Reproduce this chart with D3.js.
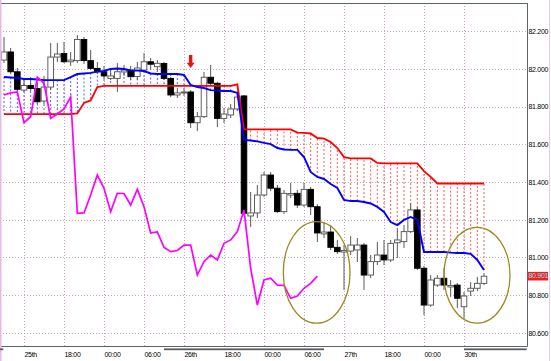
<!DOCTYPE html>
<html>
<head>
<meta charset="utf-8">
<script src="https://cdn.jsdelivr.net/npm/d3@7"></script>
<style>
body { margin: 0; background: #fff; }
svg text { font-family: "Liberation Sans", Arial, sans-serif; font-size: 7px; fill: #000; letter-spacing: -0.3px; }
</style>
</head>
<body>
<script>
// bar index of the first visible candle (0 = "25th" label)
var firstBar = -3;

var opens = [82.046, 82.089, 81.984, 81.887, 81.911, 81.895, 81.829, 81.903, 82.062, 82.081,
             82.037, 82.043, 82.155, 82.043, 82.002, 81.984, 81.949, 81.949, 81.983, 81.990,
             81.959, 81.993, 82.037, 82.011, 82.028, 81.949, 81.861, 81.872, 81.877, 81.714,
             81.746, 81.955, 81.923, 81.737, 81.755, 81.787, 81.856, 81.220, 81.236, 81.331,
             81.437, 81.367, 81.243, 81.331, 81.340, 81.278, 81.361, 81.269, 81.125, 81.135,
             81.054, 81.029, 81.034, 81.040, 81.066, 80.907, 80.978, 81.013, 80.987, 81.078,
             81.084, 81.137, 81.252, 80.943, 80.748, 80.854, 80.890, 80.844, 80.854, 80.739,
             80.822, 80.837, 80.863];
var highs = [82.168, 82.110, 82.004, 81.946, 81.956, 81.930, 81.962, 82.136, 82.136, 82.142,
             82.089, 82.179, 82.168, 82.099, 82.036, 82.015, 81.993, 82.030, 82.020, 82.015,
             82.036, 82.083, 82.057, 82.046, 82.036, 81.956, 81.898, 81.898, 81.887, 81.771,
             81.983, 82.020, 81.930, 81.792, 81.813, 81.877, 81.861, 81.347, 81.384, 81.453,
             81.453, 81.384, 81.358, 81.395, 81.358, 81.395, 81.374, 81.283, 81.188, 81.172,
             81.093, 81.066, 81.114, 81.103, 81.077, 81.013, 81.082, 81.093, 81.093, 81.156,
             81.172, 81.289, 81.268, 80.955, 80.907, 80.907, 80.944, 80.881, 80.865, 80.817,
             80.870, 80.897, 80.918];
var lows = [82.030, 81.972, 81.856, 81.877, 81.882, 81.813, 81.813, 81.887, 82.036, 82.030,
            82.015, 82.030, 82.025, 81.993, 81.972, 81.946, 81.940, 81.877, 81.962, 81.940,
            81.940, 81.983, 81.993, 81.983, 81.940, 81.850, 81.845, 81.856, 81.686, 81.670,
            81.739, 81.909, 81.691, 81.713, 81.739, 81.776, 81.220, 81.162, 81.209, 81.321,
            81.352, 81.236, 81.230, 81.315, 81.262, 81.268, 81.225, 81.082, 81.103, 81.040,
            81.019, 80.828, 81.013, 80.976, 80.828, 80.891, 80.960, 80.960, 80.976, 80.997,
            81.050, 81.130, 80.934, 80.695, 80.738, 80.844, 80.828, 80.791, 80.732, 80.679,
            80.796, 80.822, 80.854];
var closes = [82.089, 81.984, 81.891, 81.911, 81.895, 81.825, 81.903, 82.062, 82.078, 82.037,
              82.046, 82.155, 82.043, 82.002, 81.984, 81.962, 81.962, 81.984, 81.993, 81.958,
              82.004, 82.037, 82.024, 82.029, 81.949, 81.861, 81.872, 81.877, 81.714, 81.746,
              81.955, 81.923, 81.737, 81.760, 81.787, 81.850, 81.234, 81.236, 81.331, 81.437,
              81.367, 81.243, 81.340, 81.339, 81.278, 81.361, 81.269, 81.130, 81.135, 81.054,
              81.031, 81.037, 81.066, 81.066, 80.907, 80.978, 81.013, 80.987, 81.075, 81.093,
              81.137, 81.252, 80.943, 80.748, 80.881, 80.890, 80.854, 80.852, 80.784, 80.796,
              80.837, 80.863, 80.901];

// blue and red indicator lines, one value per candle
var tenkan = [81.956, 81.954, 81.951, 81.946, 81.946, 81.943, 81.940, 81.940, 81.940, 81.940,
              81.956, 81.972, 81.975, 81.978, 81.985, 81.988, 81.999, 82.001, 81.999, 81.991,
              81.991, 81.988, 81.975, 81.972, 81.972, 81.972, 81.972, 81.967, 81.914, 81.903,
              81.898, 81.887, 81.885, 81.882, 81.882, 81.872, 81.623, 81.620, 81.615, 81.607,
              81.601, 81.580, 81.572, 81.570, 81.570, 81.532, 81.453, 81.427, 81.416, 81.389,
              81.368, 81.305, 81.299, 81.299, 81.294, 81.286, 81.268, 81.241, 81.188, 81.172,
              81.199, 81.215, 81.199, 81.029, 81.029, 81.029, 81.029, 81.026, 81.024, 81.024,
              81.019, 80.987, 80.934];
var kijun = [81.760, 81.760, 81.760, 81.760, 81.760, 81.760, 81.760, 81.760, 81.760, 81.760,
             81.760, 81.763, 81.819, 81.832, 81.903, 81.909, 81.909, 81.909, 81.909, 81.909,
             81.909, 81.909, 81.909, 81.909, 81.909, 81.909, 81.909, 81.909, 81.909, 81.909,
             81.909, 81.909, 81.909, 81.909, 81.909, 81.917, 81.679, 81.679, 81.679, 81.679,
             81.679, 81.679, 81.679, 81.679, 81.662, 81.660, 81.657, 81.633, 81.630, 81.612,
             81.580, 81.532, 81.525, 81.525, 81.525, 81.525, 81.501, 81.499, 81.499, 81.499,
             81.499, 81.499, 81.499, 81.458, 81.427, 81.392, 81.392, 81.392, 81.392, 81.392,
             81.392, 81.392, 81.392];
// magenta line = close drawn this many bars back
var chikouShift = 25;
var lastPrice = 80.901;

var priceTicks = [80.6, 80.8, 81.0, 81.2, 81.4, 81.6, 81.8, 82.0, 82.2];
var timeBars = [0, 6, 12, 18, 24, 30, 36, 42, 48, 54, 60, 66];
var timeLabels = ["25th", "18:00", "00:00", "06:00", "26th", "18:00", "00:00", "06:00", "27th", "18:00", "00:00", "30th"];

// annotations: signal arrow and the two hand-drawn ellipses
var arrowBar = 25, arrowPrice = 82.004;
var ringBars = [43.9, 67.95], ringPrices = [80.921, 80.906];
var ringHalfBars = [5, 4.95], ringHalfPrices = [0.269, 0.254];
// dark strips under the time axis, in bars
var stripFrom = [-3.6, 21, 66], stripTo = [-3.1, 45, 75.4];

var width = 551, height = 361;
var plotRight = 527, plotTop = 3, plotBottom = 346;

var x = d3.scaleLinear().domain([0, 6]).range([24, 64]);
var y = d3.scaleLinear().domain([80.6, 82.2]).range([333, 31]);

var bars = d3.range(opens.length).map(function(i) {
    return {k: i + firstBar, o: opens[i], h: highs[i], l: lows[i], c: closes[i], t: tenkan[i], kj: kijun[i]};
});

var svg = d3.select("body")
            .append("svg")
            .attr("width", width)
            .attr("height", height)

svg.append("defs").append("clipPath").attr("id", "plot")
    .append("rect").attr("x", 0).attr("y", plotTop).attr("width", plotRight).attr("height", plotBottom - plotTop);

// grid
svg.append("g").selectAll("line")
    .data(priceTicks).enter().append("line")
    .attr("x1", 0).attr("x2", plotRight)
    .attr("y1", function(d) {return Math.round(y(d)) + 0.5})
    .attr("y2", function(d) {return Math.round(y(d)) + 0.5})
    .attr("stroke", "#b8a8c4").attr("stroke-dasharray", "1,2")

svg.append("g").selectAll("line")
    .data(timeBars).enter().append("line")
    .attr("x1", function(d) {return Math.round(x(d)) + 0.5})
    .attr("x2", function(d) {return Math.round(x(d)) + 0.5})
    .attr("y1", plotTop).attr("y2", plotBottom)
    .attr("stroke", "#c8a0c4").attr("stroke-dasharray", "1,2")

var plot = svg.append("g").attr("clip-path", "url(#plot)");

// cloud hatching between the two lines
plot.append("g").selectAll("line")
    .data(bars).enter().append("line")
    .attr("x1", function(d) {return x(d.k)})
    .attr("x2", function(d) {return x(d.k)})
    .attr("y1", function(d) {return y(d.t)})
    .attr("y2", function(d) {return y(d.kj)})
    .attr("stroke", function(d) {return d.t >= d.kj ? "#5a5aff" : "#ff5a5a"})
    .attr("stroke-dasharray", "2,2")

// candles
var bodyW = 5.6;
plot.append("g").selectAll("line")
    .data(bars).enter().append("line")
    .attr("x1", function(d) {return x(d.k)})
    .attr("x2", function(d) {return x(d.k)})
    .attr("y1", function(d) {return y(d.h)})
    .attr("y2", function(d) {return y(d.l)})
    .attr("stroke", "#5a5a5a")

plot.append("g").selectAll("rect")
    .data(bars).enter().append("rect")
    .attr("x", function(d) {return x(d.k) - bodyW / 2})
    .attr("y", function(d) {return y(Math.max(d.o, d.c))})
    .attr("width", bodyW)
    .attr("height", function(d) {return Math.max(1, Math.abs(y(d.o) - y(d.c)))})
    .attr("fill", function(d) {return d.c < d.o ? "#000" : "#fff"})
    .attr("stroke", function(d) {return d.c < d.o ? "#000" : "#505050"})
    .attr("stroke-width", 0.9)

// lines
var line = d3.line().x(function(d) {return x(d.k)}).y(function(d) {return y(d.v)});

plot.append("path")
    .datum(bars.map(function(d) {return {k: d.k, v: d.kj}}))
    .attr("d", line).attr("fill", "none").attr("stroke", "#ff0000").attr("stroke-width", 1.8)

plot.append("path")
    .datum(bars.map(function(d) {return {k: d.k, v: d.t}}))
    .attr("d", line).attr("fill", "none").attr("stroke", "#0000ff").attr("stroke-width", 1.9)

var chikou = closes.slice(chikouShift).map(function(c, i) {return {k: i + firstBar, v: c}});
plot.append("path")
    .datum(chikou)
    .attr("d", line).attr("fill", "none").attr("stroke", "#ff00ff").attr("stroke-width", 1.7)

// annotations
plot.append("g").selectAll("ellipse")
    .data(ringBars).enter().append("ellipse")
    .attr("cx", function(d) {return x(d)})
    .attr("cy", function(d, i) {return y(ringPrices[i])})
    .attr("rx", function(d, i) {return x(d + ringHalfBars[i]) - x(d)})
    .attr("ry", function(d, i) {return y(ringPrices[i] - ringHalfPrices[i]) - y(ringPrices[i])})
    .attr("fill", "none").attr("stroke", "#9a8a1c").attr("stroke-width", 1.3)

var ax = x(arrowBar), ay = y(arrowPrice);
svg.append("path")
    .attr("d", "M" + ax + "," + ay + "l-4,-5.2h2.3v-7.8h3.4v7.8h2.3z")
    .attr("fill", "#ee1111")

// frame
svg.append("line").attr("x1", 0).attr("x2", plotRight + 0.5).attr("y1", plotTop + 0.5).attr("y2", plotTop + 0.5).attr("stroke", "#5a6470")
svg.append("line").attr("x1", plotRight + 0.5).attr("x2", plotRight + 0.5).attr("y1", plotTop).attr("y2", plotBottom + 0.5).attr("stroke", "#5a6470")
svg.append("line").attr("x1", 0).attr("x2", plotRight + 0.5).attr("y1", plotBottom + 0.5).attr("y2", plotBottom + 0.5).attr("stroke", "#5a6470")
svg.append("line").attr("x1", 0.75).attr("x2", 0.75).attr("y1", 0).attr("y2", height).attr("stroke", "#e4bce0").attr("stroke-width", 1.5)
svg.append("line").attr("x1", 549.5).attr("x2", 549.5).attr("y1", 0).attr("y2", height).attr("stroke", "#f0c8ec")

svg.append("g").selectAll("rect")
    .data(stripFrom).enter().append("rect")
    .attr("x", function(d) {return x(d)})
    .attr("width", function(d, i) {return x(stripTo[i]) - x(d)})
    .attr("y", 348.4).attr("height", 1.8)
    .attr("fill", "#5c5c5c")

// axes
var yAxis = svg.append("g")
    .attr("transform", "translate(" + plotRight + ",0)")
    .call(d3.axisRight(y).tickValues(priceTicks).tickFormat(d3.format(".3f")).tickSize(0).tickPadding(1.5))
yAxis.select(".domain").remove();

var xAxis = svg.append("g")
    .attr("transform", "translate(0," + plotBottom + ")")
    .call(d3.axisBottom(x).tickValues(timeBars).tickFormat(function(d, i) {return timeLabels[i]}).tickSize(0).tickPadding(6.5))
xAxis.select(".domain").remove();
xAxis.selectAll("text").attr("text-anchor", "start");

// current price tag
var py = y(lastPrice);
svg.append("rect")
    .attr("x", plotRight + 0.5).attr("y", py - 4.3)
    .attr("width", 20.5).attr("height", 8.6)
    .attr("fill", "#f02020")
svg.append("text")
    .attr("x", plotRight + 1.5).attr("y", py).attr("dy", "0.32em")
    .style("fill", "#7fe6ee")
    .text(d3.format(".3f")(lastPrice))
</script>
</body>
</html>
